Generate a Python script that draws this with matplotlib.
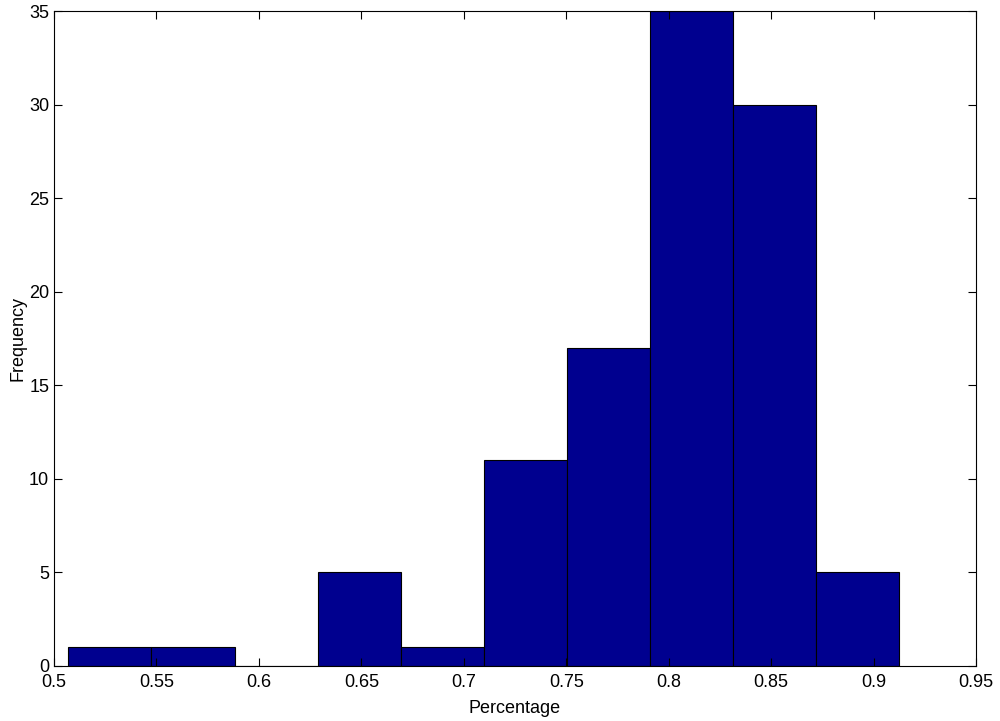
import matplotlib
matplotlib.use("Agg")
import matplotlib.pyplot as plt
import numpy as np

# histogram counts (10 bins, MATLAB hist style)
counts = [1, 1, 0, 5, 1, 11, 17, 35, 30, 5]
bin_lo = 0.507
bin_hi = 0.9125
x_ticks = [0.5, 0.55, 0.6, 0.65, 0.7, 0.75, 0.8, 0.85, 0.9, 0.95]
y_ticks = [0, 5, 10, 15, 20, 25, 30, 35]

plt.rcParams['font.family'] = ['Liberation Sans', 'DejaVu Sans']

edges = np.linspace(bin_lo, bin_hi, len(counts) + 1)
widths = np.diff(edges)

fig = plt.figure(figsize=(10, 7.21), dpi=100)
ax = fig.add_axes([0.054, 0.0763, 0.922, 0.9084])

ax.bar(edges[:-1], counts, width=widths, align='edge',
       color='#00008F', edgecolor='black', linewidth=0.8)

ax.set_xlim(0.5, 0.95)
ax.set_ylim(0, 35)
ax.set_xticks(x_ticks)
ax.set_xticklabels(["%g" % t for t in x_ticks])
ax.set_yticks(y_ticks)

ax.tick_params(direction='in', length=6, width=0.8, top=True, right=True,
               labelsize=13, colors='black')
ax.tick_params(axis='x', pad=6)
for s in ax.spines.values():
    s.set_linewidth(0.8)

ax.set_xlabel("Percentage", fontsize=13, labelpad=6)
ax.set_ylabel("Frequency", fontsize=13, labelpad=2)

fig.savefig("out.png", dpi=100)
